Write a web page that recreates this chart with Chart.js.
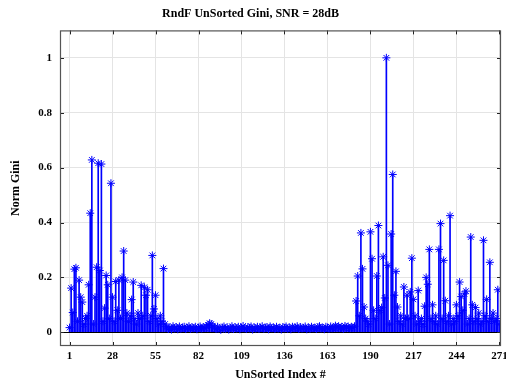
<!DOCTYPE html>
<html>
<head>
<meta charset="utf-8">
<script src="https://cdn.jsdelivr.net/npm/chart.js@4"></script>
<style>
    html, body { margin: 0; padding: 0; background: #fff; }
</style>
</head>
<body>
<canvas id="giniChart" width="506" height="386"></canvas>
<script>
// Norm Gini per unsorted index, split in three stretches (1-61, 62-180, 181-271)
const giniStart = [
    0.017, 0.161, 0.072, 0.23, 0.235, 0.04, 0.19, 0.128, 0.11, 0.03,
    0.05, 0.06, 0.173, 0.434, 0.628, 0.03, 0.128, 0.237, 0.616, 0.225,
    0.613, 0.04, 0.088, 0.207, 0.173, 0.05, 0.543, 0.128, 0.04, 0.185,
    0.08, 0.19, 0.05, 0.2, 0.296, 0.19, 0.07, 0.04, 0.06, 0.119,
    0.183, 0.05, 0.03, 0.07, 0.05, 0.171, 0.06, 0.164, 0.135, 0.155,
    0.04, 0.06, 0.28, 0.085, 0.135, 0.05, 0.03, 0.06, 0.04, 0.232,
    0.03,
];
const giniMiddle = [
    0.02, 0.012, 0.018, 0.01, 0.022, 0.015, 0.019, 0.011, 0.021, 0.014,
    0.017, 0.02, 0.012, 0.016, 0.022, 0.013, 0.018, 0.015, 0.02, 0.011,
    0.017, 0.021, 0.014, 0.019, 0.016, 0.022, 0.027, 0.033, 0.03, 0.024,
    0.018, 0.012, 0.02, 0.015, 0.009, 0.017, 0.021, 0.013, 0.018, 0.01,
    0.016, 0.022, 0.012, 0.019, 0.014, 0.02, 0.011, 0.017, 0.023, 0.015,
    0.012, 0.019, 0.016, 0.021, 0.01, 0.018, 0.014, 0.02, 0.012, 0.017,
    0.022, 0.013, 0.016, 0.019, 0.011, 0.021, 0.015, 0.018, 0.012, 0.02,
    0.014, 0.017, 0.01, 0.019, 0.016, 0.021, 0.013, 0.018, 0.011, 0.02,
    0.015, 0.017, 0.022, 0.012, 0.019, 0.014, 0.016, 0.021, 0.011, 0.018,
    0.013, 0.02, 0.015, 0.017, 0.012, 0.019, 0.022, 0.014, 0.016, 0.011,
    0.02, 0.017, 0.013, 0.021, 0.015, 0.018, 0.024, 0.019, 0.022, 0.016,
    0.02, 0.013, 0.023, 0.018, 0.021, 0.015, 0.02, 0.017, 0.022,
];
const giniEnd = [
    0.114, 0.205, 0.06, 0.362, 0.231, 0.092, 0.05, 0.04, 0.03, 0.366,
    0.268, 0.08, 0.05, 0.205, 0.389, 0.08, 0.09, 0.275, 0.125, 1.0,
    0.244, 0.03, 0.358, 0.575, 0.135, 0.222, 0.092, 0.04, 0.06, 0.03,
    0.165, 0.05, 0.135, 0.05, 0.147, 0.27, 0.12, 0.06, 0.03, 0.152,
    0.04, 0.05, 0.03, 0.095, 0.2, 0.175, 0.302, 0.05, 0.1, 0.04,
    0.06, 0.03, 0.302, 0.396, 0.05, 0.262, 0.115, 0.04, 0.06, 0.425,
    0.03, 0.05, 0.04, 0.1, 0.06, 0.183, 0.13, 0.08, 0.14, 0.15,
    0.03, 0.05, 0.347, 0.1, 0.04, 0.09, 0.05, 0.07, 0.03, 0.04,
    0.335, 0.06, 0.12, 0.04, 0.255, 0.05, 0.07, 0.04, 0.05, 0.155,
    0.03,
];

const xTicks = [1, 28, 55, 82, 109, 136, 163, 190, 217, 244, 271];
const yTicks = [0, 0.2, 0.4, 0.6, 0.8, 1];

const normGini = giniStart.concat(giniMiddle, giniEnd);
const points = normGini.map((v, i) => ({ x: i + 1, y: v }));

const labelFont = { family: 'Liberation Serif', size: 11, weight: 'bold' };
const titleFont = { family: 'Liberation Serif', size: 12, weight: 'bold' };

// matlab style box with inward tick marks
const axesBox = {
    id: 'axesBox',
    afterDatasetsDraw(chart) {
        const { ctx, chartArea: a, scales: { x, y } } = chart;
        ctx.save();
        ctx.strokeStyle = '#222';
        ctx.lineWidth = 1;
        ctx.beginPath();
        x.ticks.forEach((t) => {
            const px = Math.round(x.getPixelForValue(t.value)) + 0.5;
            ctx.moveTo(px, a.bottom);
            ctx.lineTo(px, a.bottom - 4);
            ctx.moveTo(px, a.top);
            ctx.lineTo(px, a.top + 4);
        });
        y.ticks.forEach((t) => {
            const py = Math.round(y.getPixelForValue(t.value)) + 0.5;
            ctx.moveTo(a.left, py);
            ctx.lineTo(a.left + 4, py);
            ctx.moveTo(a.right, py);
            ctx.lineTo(a.right - 4, py);
        });
        ctx.stroke();
        ctx.strokeStyle = '#555';
        ctx.lineWidth = 1.2;
        ctx.strokeRect(a.left + 0.5, a.top + 0.5, a.right - a.left - 1, a.bottom - a.top - 1);
        ctx.restore();
    },
};

const ctx = document.getElementById('giniChart').getContext('2d');
new Chart(ctx, {
    type: 'scatter',
    data: {
        datasets: [
            {
                type: 'scatter',
                label: 'Norm Gini',
                data: points,
                pointStyle: 'star',
                radius: 4,
                borderWidth: 1,
                borderColor: '#0000ff',
                backgroundColor: '#0000ff',
                order: 0,
            },
            {
                type: 'bar',
                label: 'stems',
                data: points,
                backgroundColor: '#0000ff',
                barThickness: 1,
                order: 1,
            },
        ],
    },
    options: {
        responsive: false,
        animation: false,
        devicePixelRatio: 1,
        layout: { padding: { left: 0, right: 5, top: 0, bottom: 0 } },
        plugins: {
            legend: { display: false },
            tooltip: { enabled: false },
            title: {
                display: true,
                text: 'RndF UnSorted Gini, SNR = 28dB',
                color: '#000',
                font: titleFont,
                padding: { top: 7, bottom: 9 },
            },
        },
        scales: {
            x: {
                type: 'linear',
                min: -5,
                max: 272,
                offset: false,
                afterBuildTicks: (scale) => { scale.ticks = xTicks.map((v) => ({ value: v })); },
                afterFit: (scale) => {
                    scale.height = 40;
                    scale.paddingLeft = 0;
                    scale.paddingRight = 0;
                },
                grid: { color: '#e4e4e4', drawTicks: false, offset: false },
                border: { display: false },
                ticks: { color: '#000', font: labelFont, padding: 4, maxRotation: 0, autoSkip: false },
                title: {
                    display: true,
                    text: 'UnSorted Index #',
                    color: '#000',
                    font: titleFont,
                    padding: { top: 0, bottom: 4 },
                },
            },
            y: {
                min: -0.05,
                max: 1.1,
                afterBuildTicks: (scale) => { scale.ticks = yTicks.map((v) => ({ value: v })); },
                afterFit: (scale) => { scale.width = 60; },
                grid: {
                    color: (c) => (c.tick && c.tick.value === 0 ? '#000' : '#e4e4e4'),
                    drawTicks: false,
                },
                border: { display: false },
                ticks: { color: '#000', font: labelFont, padding: 8, callback: (v) => String(v) },
                title: {
                    display: true,
                    text: 'Norm Gini',
                    color: '#000',
                    font: titleFont,
                    padding: { top: 9, bottom: 0 },
                },
            },
        },
    },
    plugins: [axesBox],
});
</script>
</body>
</html>
